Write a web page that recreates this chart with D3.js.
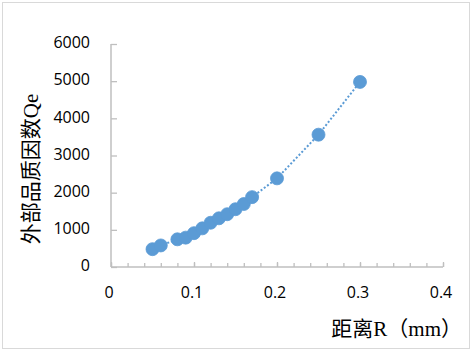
<!DOCTYPE html>
<html>
<head>
<meta charset="utf-8">
<script src="https://cdn.jsdelivr.net/npm/d3@7"></script>
<style>
	body { margin: 0; background: #fff; }
	svg { display: block; }
</style>
</head>
<body>
<div id="chart"></div>
<script>
// distance R (mm) and external quality factor Qe
let radius = [0.05, 0.06, 0.08, 0.09, 0.10, 0.11, 0.12, 0.13, 0.14, 0.15, 0.16, 0.17, 0.20, 0.25, 0.30];
let qe = [480, 580, 745, 790, 910, 1040, 1190, 1310, 1420, 1555, 1695, 1880, 2385, 3560, 4980];
let xTicks = [0, 0.1, 0.2, 0.3, 0.4];
let yTicks = [0, 1000, 2000, 3000, 4000, 5000, 6000];
let xTitle = "距离R（mm）";
let yTitle = "外部品质因数Qe";

let width = 472,
	height = 350,
	margin = {top: 44, right: 29, bottom: 83, left: 111},
	innerW = width - margin.left - margin.right,
	innerH = height - margin.top - margin.bottom,
	axisColor = "#bfbfbf",
	blue = "#5b9bd5",
	tickFont = "'Open Sans', 'Liberation Sans', sans-serif",
	titleFont = "'Liberation Serif', 'Noto Sans CJK SC', serif";

let svg = d3.select("#chart")
	.append("svg")
	.attr("width", width)
	.attr("height", height);

// chart area frame
svg.append("rect")
	.attr("x", 2.5)
	.attr("y", 2.5)
	.attr("width", width - 5)
	.attr("height", height - 4)
	.attr("fill", "none")
	.attr("stroke", "#d9d9d9")
	.attr("stroke-width", 1);

let g = svg.append("g")
	.attr("transform", "translate(" + margin.left + "," + margin.top + ")");

let xScale = d3.scaleLinear()
	.domain([0, 0.4])
	.range([0, innerW]);

let yScale = d3.scaleLinear()
	.domain([0, 6000])
	.range([innerH, 0]);

// x axis: minor ticks every 0.02, major every 0.1, drawn inside
let xAxisG = g.append("g")
	.attr("transform", "translate(0," + innerH + ")");

xAxisG.append("g")
	.call(d3.axisTop(xScale).tickValues(d3.range(0, 0.4001, 0.02)).tickSize(4).tickFormat(""))
	.call(s => s.select(".domain").remove());

xAxisG.append("g")
	.call(d3.axisTop(xScale).tickValues(xTicks).tickSize(5).tickFormat(""))
	.call(s => s.select(".domain").remove());

xAxisG.selectAll("line")
	.attr("stroke", axisColor)
	.attr("stroke-width", 1.3);

xAxisG.append("line")
	.attr("x1", 0)
	.attr("x2", innerW)
	.attr("stroke", axisColor)
	.attr("stroke-width", 1.5);

xAxisG.selectAll(".xlabel")
	.data(xTicks)
	.join("text")
	.attr("class", "xlabel")
	.attr("x", d => xScale(d) - 2)
	.attr("y", 27)
	.attr("text-anchor", "middle")
	.attr("dominant-baseline", "middle")
	.style("font-family", tickFont)
	.style("font-size", "16px")
	.attr("fill", "#000")
	.text(d => d3.format("")(d));

// y axis: ticks inside to the right
let yAxisG = g.append("g");

yAxisG.append("g")
	.call(d3.axisRight(yScale).tickValues(yTicks).tickSize(6).tickFormat(""))
	.call(s => s.select(".domain").remove())
	.selectAll("line")
	.attr("stroke", axisColor)
	.attr("stroke-width", 1.3);

yAxisG.append("line")
	.attr("y1", 0)
	.attr("y2", innerH)
	.attr("stroke", axisColor)
	.attr("stroke-width", 1.5);

yAxisG.selectAll(".ylabel")
	.data(yTicks)
	.join("text")
	.attr("class", "ylabel")
	.attr("x", -21)
	.attr("y", d => yScale(d))
	.attr("text-anchor", "end")
	.attr("dominant-baseline", "middle")
	.style("font-family", tickFont)
	.style("font-size", "16px")
	.attr("fill", "#000")
	.text(d => d);

// dotted connecting line
let line = d3.line()
	.x((d, i) => xScale(radius[i]))
	.y(d => yScale(d));

g.append("path")
	.datum(qe)
	.attr("d", line)
	.attr("fill", "none")
	.attr("stroke", blue)
	.attr("stroke-width", 2)
	.attr("stroke-dasharray", "2,2");

// markers
g.selectAll(".pt")
	.data(qe)
	.join("circle")
	.attr("class", "pt")
	.attr("cx", (d, i) => xScale(radius[i]))
	.attr("cy", d => yScale(d))
	.attr("r", 6.5)
	.attr("fill", blue)
	.attr("stroke", blue)
	.attr("stroke-width", 0.8);

// axis titles
svg.append("text")
	.attr("x", 462)
	.attr("y", 331)
	.attr("text-anchor", "end")
	.attr("dominant-baseline", "middle")
	.style("font-family", titleFont)
	.style("font-size", "21px")
	.attr("fill", "#000")
	.text(xTitle);

svg.append("text")
	.attr("transform", "translate(33,169) rotate(-90)")
	.attr("text-anchor", "middle")
	.attr("dominant-baseline", "middle")
	.style("font-family", titleFont)
	.style("font-size", "21px")
	.attr("fill", "#000")
	.text(yTitle);
</script>
</body>
</html>
